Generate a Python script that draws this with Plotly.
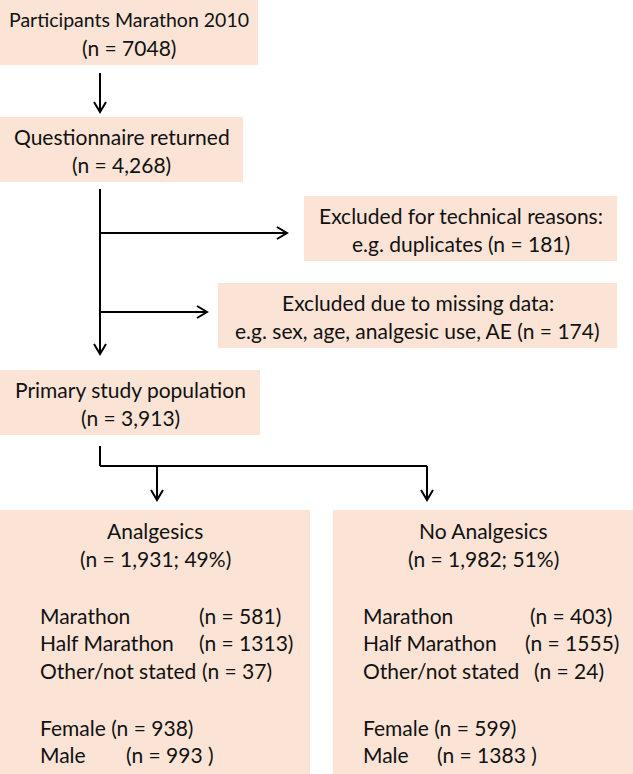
import plotly.graph_objects as go

# ---- data ----
stage_titles = ["Participants Marathon 2010", "Questionnaire returned", "Primary study population"]
stage_counts = ["7048", "4,268", "3,913"]
excl_titles = ["Excluded for technical reasons:", "Excluded due to missing data:"]
excl_details = ["e.g. duplicates", "e.g. sex, age, analgesic use, AE"]
excl_counts = [181, 174]
group_titles = ["Analgesics", "No Analgesics"]
group_counts = ["1,931", "1,982"]
group_pcts = [49, 51]
race_labels = ["Marathon", "Half Marathon", "Other/not stated"]
race_analgesics = [581, 1313, 37]
race_no_analgesics = [403, 1555, 24]
sex_labels = ["Female", "Male"]
sex_analgesics = [938, 993]
sex_no_analgesics = [599, 1383]

W, H = 633, 774
FILL = "#FBE4D5"
FONT = dict(family="Lato, 'Open Sans', sans-serif", size=21, color="#111111")

fig = go.Figure()
shapes = []
annots = []

def box(x0, y0, x1, y1):
    shapes.append(dict(type="rect", xref="x", yref="y", x0=x0, y0=y0, x1=x1, y1=y1,
                       fillcolor=FILL, line=dict(width=0), layer="below"))

def line(x0, y0, x1, y1):
    shapes.append(dict(type="line", xref="x", yref="y", x0=x0, y0=y0, x1=x1, y1=y1,
                       line=dict(color="black", width=2)))

def head_down(x, y):
    shapes.append(dict(type="path", xref="x", yref="y",
                       path=f"M {x-6},{y-10} L {x},{y} L {x+6},{y-10}",
                       line=dict(color="black", width=2)))

def head_right(x, y):
    shapes.append(dict(type="path", xref="x", yref="y",
                       path=f"M {x-10},{y-6} L {x},{y} L {x-10},{y+6}",
                       line=dict(color="black", width=2)))

def text(x, y, s, anchor="center", size=None):
    f = dict(FONT)
    if size:
        f["size"] = size
    annots.append(dict(x=x, y=y, xref="x", yref="y", text=s, showarrow=False,
                       xanchor=anchor, yanchor="middle", font=f))

# stage boxes
stage_boxes = [(0, 0, 258, 65), (0, 117, 243, 182), (0, 370, 260, 435)]
for k, ((x0, y0, x1, y1), t, c) in enumerate(zip(stage_boxes, stage_titles, stage_counts)):
    box(x0, y0, x1, y1)
    cx = (x0 + x1) / 2
    text(cx, y0 + 19, t, size=(19.5 if k == 0 else None))
    text(cx, y0 + 47, f"(n = {c})")

# exclusion boxes
excl_boxes = [(304, 196, 617, 261), (218, 283, 617, 348)]
for (x0, y0, x1, y1), t, d, c in zip(excl_boxes, excl_titles, excl_details, excl_counts):
    box(x0, y0, x1, y1)
    cx = (x0 + x1) / 2
    text(cx, y0 + 19, t)
    text(cx, y0 + 47, f"{d} (n = {c})")

# connectors
line(100, 73, 100, 112)
head_down(100, 112)
line(100, 189, 100, 354)
head_down(100, 354)
line(100, 233, 287, 233)
head_right(287, 233)
line(100, 312, 207, 312)
head_right(207, 312)
line(100, 446, 100, 466)
line(100, 466, 427, 466)
line(157, 466, 157, 500)
head_down(157, 500)
line(427, 466, 427, 500)
head_down(427, 500)

# group boxes
group_boxes = [(0, 510, 310, 780), (333, 510, 633, 780)]
race_vals = [race_analgesics, race_no_analgesics]
sex_vals = [sex_analgesics, sex_no_analgesics]
text_left = [38, 361]
race_val_x = [[197, 197, 200], [528, 523, 532]]
sex_val_x = [[None, 124], [None, 435]]
for i, (x0, y0, x1, y1) in enumerate(group_boxes):
    box(x0, y0, x1, y1)
    cx = (x0 + x1) / 2
    text(cx, 530, group_titles[i])
    text(cx, 558, f"(n = {group_counts[i]}; {group_pcts[i]}%)")
    for j, lab in enumerate(race_labels):
        y = 615 + j * 27.5
        text(text_left[i], y, lab, "left")
        text(race_val_x[i][j], y, f"(n = {race_vals[i][j]})", "left")
    text(text_left[i], 727, f"{sex_labels[0]} (n = {sex_vals[i][0]})", "left")
    text(text_left[i], 754, sex_labels[1], "left")
    text(sex_val_x[i][1], 754, f"(n = {sex_vals[i][1]} )", "left")

fig.update_layout(
    width=W, height=H, margin=dict(l=0, r=0, t=0, b=0),
    paper_bgcolor="white", plot_bgcolor="white",
    xaxis=dict(range=[0, W], visible=False, fixedrange=True),
    yaxis=dict(range=[H, 0], visible=False, fixedrange=True),
    shapes=shapes, annotations=annots, showlegend=False,
)
fig.write_html("out.html", config=dict(displayModeBar=False))

# remove default page margin so the figure sits at the window origin
with open("out.html", "r", encoding="utf-8") as fh:
    html = fh.read()
html = html.replace("<head>", "<head><style>html,body{margin:0;padding:0;overflow:hidden;}</style>", 1)
with open("out.html", "w", encoding="utf-8") as fh:
    fh.write(html)
